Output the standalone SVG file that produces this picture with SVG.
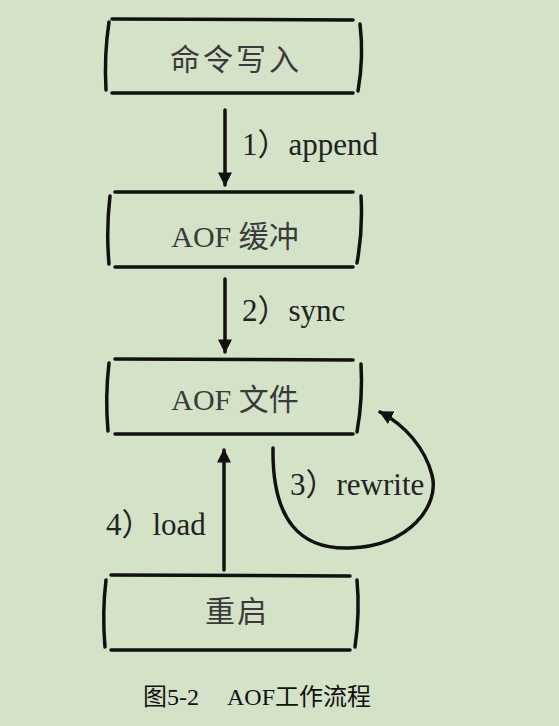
<svg xmlns="http://www.w3.org/2000/svg" width="559" height="726" viewBox="0 0 559 726">
<style>
.bg{fill:#d4e3c8}
.edge{fill:none;stroke:#111;stroke-width:3.5;stroke-linecap:round}
.br{fill:none;stroke:#111;stroke-width:3.5;stroke-linecap:round}
.nt{font-family:"Liberation Serif","Noto Sans CJK SC",serif;font-size:30px;fill:#3a3a3a;text-anchor:middle}
.lb{font-family:"Liberation Serif","Noto Sans CJK SC",serif;font-size:31px;fill:#222}
.cap{font-family:"Liberation Serif","Noto Sans CJK SC",serif;font-size:24px;fill:#111}
</style>
<defs>
<marker id="ah" viewBox="0 0 10 10" refX="9" refY="5" markerWidth="4" markerHeight="4" orient="auto" markerUnits="strokeWidth">
<path d="M0,0 L10,5 L0,10 z" fill="#111"/>
</marker>
</defs>
<rect class="bg" x="0" y="0" width="559" height="726"/>
<g id="n1">
<path class="br" d="M112,19 L353,20"/>
<path class="br" d="M112,93 L353,93"/>
<path class="br" d="M109,22 Q104,55 106,90"/>
<path class="br" d="M360,24 Q364,57 358,91"/>
<text class="nt" x="236" y="70" letter-spacing="3">命令写入</text>
</g>
<g id="n2">
<path class="br" d="M115,192 L353,192"/>
<path class="br" d="M115,267 L353,267"/>
<path class="br" d="M110,196 Q106,230 109,264"/>
<path class="br" d="M361,196 Q363,230 357,263"/>
<text class="nt" x="235" y="247">AOF 缓冲</text>
</g>
<g id="n3">
<path class="br" d="M115,359 L353,360"/>
<path class="br" d="M115,434 L353,434"/>
<path class="br" d="M109,363 Q105,397 108,431"/>
<path class="br" d="M361,364 Q363,398 357,432"/>
<text class="nt" x="235" y="410">AOF 文件</text>
</g>
<g id="n4">
<path class="br" d="M111,575 L350,576"/>
<path class="br" d="M111,650 L350,650"/>
<path class="br" d="M106,580 Q102,613 105,647"/>
<path class="br" d="M357,580 Q360,613 355,647"/>
<text class="nt" x="237" y="622" letter-spacing="2">重启</text>
</g>
<g id="edges">
<path class="edge" d="M225,110 L225,185" marker-end="url(#ah)"/>
<path class="edge" d="M225,279 L225,352" marker-end="url(#ah)"/>
<path class="edge" d="M224,570 L224,450" marker-end="url(#ah)"/>
<path class="edge" d="M273,448 C272,520 300,550 350,548 C410,546 440,505 432,475 C425,448 405,425 380,412" marker-end="url(#ah)"/>
</g>
<text class="lb" x="242" y="155">1）append</text>
<text class="lb" x="242" y="321">2）sync</text>
<text class="lb" x="290" y="495">3）rewrite</text>
<text class="lb" x="106" y="535">4）load</text>
<text class="cap" x="143" y="705">图5-2<tspan x="227">AOF工作流程</tspan></text>
</svg>
